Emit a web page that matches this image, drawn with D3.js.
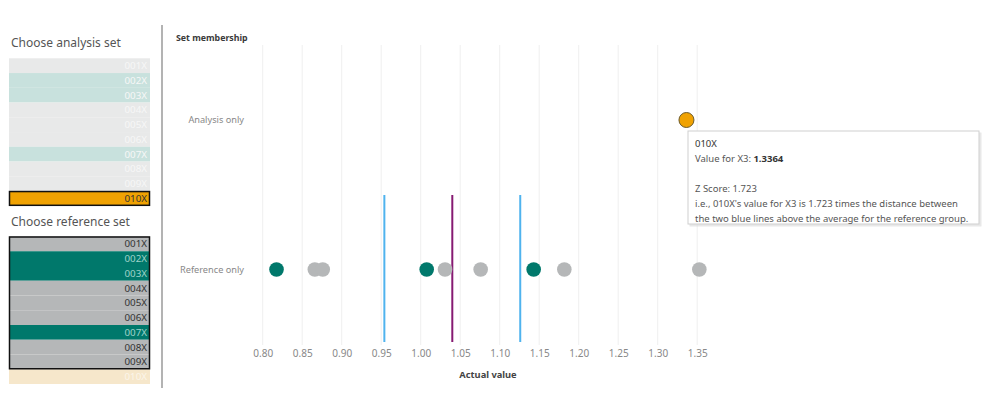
<!DOCTYPE html>
<html>
<head>
<meta charset="utf-8">
<script src="https://cdn.jsdelivr.net/npm/d3@7"></script>
<style>
  body { margin: 0; background: #fff; font-family: "Noto Sans", sans-serif; }
  svg { display: block; }
</style>
</head>
<body>
<svg id="chart" width="1000" height="398"></svg>
<script>
// data
const setIds = ["001X", "002X", "003X", "004X", "005X", "006X", "007X", "008X", "009X", "010X"];
const highlightedIds = ["002X", "003X", "007X"];
const analysisIds = ["010X"];
const referenceIds = ["001X", "002X", "003X", "004X", "005X", "006X", "007X", "008X", "009X"];
const referenceValues = [0.866, 0.8175, 1.0076, 0.876, 1.0308, 1.0759, 1.143, 1.1818, 1.3527];
const analysisValues = [1.3364];
const rowLabels = ["Analysis only", "Reference only"];
const tickValues = [0.80, 0.85, 0.90, 0.95, 1.00, 1.05, 1.10, 1.15, 1.20, 1.25, 1.30, 1.35];
const meanLine = 1.040;
const bandLines = [0.954, 1.126];
const tooltipLines = [
  { label: "010X", value: "" },
  { label: "Value for X3: ", value: "1.3364" },
  { label: "", value: "" },
  { label: "Z Score: 1.723", value: "" },
  { label: "i.e., 010X's value for X3 is 1.723 times the distance between", value: "" },
  { label: "the two blue lines above the average for the reference group.", value: "" }
];

const svg = d3.select("#chart");

// ---- left panel: set pickers ----
function drawList(top, ids, title, opts) {
  svg.append("text")
    .attr("x", 11).attr("y", top - 11)
    .attr("font-size", 12).attr("fill", "#555")
    .text(title);

  const y = d3.scaleBand().domain(ids).range([top, top + ids.length * 14.75]);
  const g = svg.append("g");
  g.selectAll("rect")
    .data(ids)
    .join("rect")
    .attr("x", 9).attr("width", 141)
    .attr("y", d => y(d)).attr("height", y.bandwidth())
    .attr("fill", d => opts.fill(d));
  g.selectAll("text")
    .data(ids)
    .join("text")
    .attr("x", 147)
    .attr("y", d => y(d) + y.bandwidth() / 2 + 3.5)
    .attr("text-anchor", "end")
    .attr("font-size", 9.8)
    .attr("fill", d => opts.text(d))
    .text(d => d);
  return y;
}

const ya = drawList(58.3, setIds, "Choose analysis set", {
  fill: d => analysisIds.includes(d) ? "#f0a202" : highlightedIds.includes(d) ? "#c8e1dd" : "#e8e9e9",
  text: d => analysisIds.includes(d) ? "#333" : "#f7f7f7"
});
svg.append("rect")
  .attr("x", 9.5).attr("y", ya("010X") + 0.5)
  .attr("width", 140).attr("height", ya.bandwidth() - 1)
  .attr("fill", "none").attr("stroke", "#111").attr("stroke-width", 1.5);

const yr = drawList(236.5, setIds, "Choose reference set", {
  fill: d => !referenceIds.includes(d) ? "#f6e7cb" : highlightedIds.includes(d) ? "#00786b" : "#b5b7b8",
  text: d => !referenceIds.includes(d) ? "#fbf5ea" : highlightedIds.includes(d) ? "#9fd3c9" : "#333"
});
svg.append("rect")
  .attr("x", 9.5).attr("y", yr("001X") + 0.5)
  .attr("width", 140).attr("height", yr("009X") + yr.bandwidth() - yr("001X") - 1)
  .attr("fill", "none").attr("stroke", "#111").attr("stroke-width", 1.5);

// separator
svg.append("line")
  .attr("x1", 162).attr("x2", 162).attr("y1", 25).attr("y2", 388)
  .attr("stroke", "#9a9a9a").attr("stroke-width", 1.5);

// ---- dot plot ----
const x = d3.scaleLinear().domain([0.80, 1.35]).range([262.7, 697.2]);
const y = d3.scaleBand().domain(rowLabels).range([45, 345]);

svg.append("text")
  .attr("x", 176).attr("y", 41)
  .attr("font-size", 8.8).attr("font-weight", "bold").attr("fill", "#3a3a3a")
  .text("Set membership");

svg.append("g")
  .selectAll("line")
  .data(tickValues)
  .join("line")
  .attr("x1", d => x(d)).attr("x2", d => x(d))
  .attr("y1", 45).attr("y2", 345)
  .attr("stroke", "#efefef").attr("stroke-width", 1);

const xAxis = svg.append("g")
  .attr("transform", "translate(0,345)")
  .call(d3.axisBottom(x).tickValues(tickValues).tickFormat(d3.format(".2f")).tickSize(0).tickPadding(5));
xAxis.select(".domain").remove();
xAxis.selectAll("text").attr("font-size", 10).attr("fill", "#888").attr("font-family", "Noto Sans");

svg.append("text")
  .attr("x", 488).attr("y", 378)
  .attr("text-anchor", "middle")
  .attr("font-size", 9.3).attr("font-weight", "bold").attr("fill", "#444")
  .text("Actual value");

const yAxis = svg.append("g")
  .attr("transform", "translate(247,0)")
  .call(d3.axisLeft(y).tickSize(0).tickPadding(3));
yAxis.select(".domain").remove();
yAxis.selectAll("text").attr("font-size", 9.2).attr("fill", "#888").attr("font-family", "Noto Sans");

// reference lines
const lineTop = 195, lineBottom = 342;
svg.append("g")
  .selectAll("line")
  .data(bandLines)
  .join("line")
  .attr("x1", d => x(d)).attr("x2", d => x(d))
  .attr("y1", lineTop).attr("y2", lineBottom)
  .attr("stroke", "#4fb3ee").attr("stroke-width", 2);
svg.append("line")
  .attr("x1", x(meanLine)).attr("x2", x(meanLine))
  .attr("y1", lineTop).attr("y2", lineBottom)
  .attr("stroke", "#861a72").attr("stroke-width", 2);

// reference points
const refData = referenceIds.map((id, i) => ({ id, value: referenceValues[i] }));
svg.append("g")
  .selectAll("circle")
  .data(refData.filter(d => !highlightedIds.includes(d.id)))
  .join("circle")
  .attr("cx", d => x(d.value))
  .attr("cy", y("Reference only") + y.bandwidth() / 2 - 0.5)
  .attr("r", 7.3)
  .attr("fill", "#b5b7b8");
svg.append("g")
  .selectAll("circle")
  .data(refData.filter(d => highlightedIds.includes(d.id)))
  .join("circle")
  .attr("cx", d => x(d.value))
  .attr("cy", y("Reference only") + y.bandwidth() / 2 - 0.5)
  .attr("r", 7.3)
  .attr("fill", "#00786b");

// analysis point
svg.append("g")
  .selectAll("circle")
  .data(analysisValues)
  .join("circle")
  .attr("cx", d => x(d))
  .attr("cy", y("Analysis only") + y.bandwidth() / 2)
  .attr("r", 7.5)
  .attr("fill", "#f0a202")
  .attr("stroke", "#6b5a2a").attr("stroke-width", 1);

// ---- tooltip ----
const tip = svg.append("g").attr("transform", "translate(688,131)");
tip.append("rect")
  .attr("x", 1.5).attr("y", 1.5).attr("width", 292).attr("height", 94)
  .attr("fill", "#d9d9d9").attr("opacity", 0.6);
tip.append("rect")
  .attr("x", 0).attr("y", 0).attr("width", 291).attr("height", 93)
  .attr("fill", "#fff").attr("stroke", "#cfcfcf").attr("stroke-width", 1);
const tipText = tip.selectAll("text")
  .data(tooltipLines)
  .join("text")
  .attr("x", 7)
  .attr("y", (d, i) => 16 + i * 15)
  .attr("font-size", 9.5)
  .attr("fill", (d, i) => i === 0 ? "#333" : "#555");
tipText.append("tspan").text(d => d.label);
tipText.append("tspan").attr("font-weight", "bold").attr("fill", "#333").text(d => d.value);
</script>
</body>
</html>
